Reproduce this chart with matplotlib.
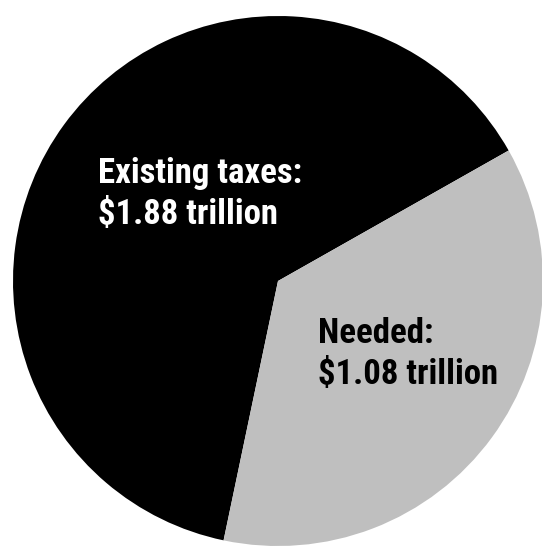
import matplotlib
matplotlib.use('Agg')
import matplotlib.pyplot as plt

# Federal revenue split (trillions of dollars)
labels = ['Existing taxes', 'Needed']
values = [1.88, 1.08]
colors = ['#000000', '#bfbfbf']
text_colors = ['#ffffff', '#000000']

fig = plt.figure(figsize=(5.42, 5.46), dpi=100)
ax = fig.add_axes([0, 0, 1, 1])

ax.pie(values, colors=colors, startangle=29.5, counterclock=True,
       radius=1.0, wedgeprops=dict(linewidth=0))

# keep a unit circle about 265 px across the radius
ax.set_xlim(-278 / 265, (542 - 278) / 265)
ax.set_ylim(-(546 - 281) / 265, 281 / 265)
ax.set_aspect('auto')
ax.axis('off')

# Two-line labels inside each slice
label_pos = [(-0.679, 0.370), (0.151, -0.234)]
for name, val, (x, y), tc in zip(labels, values, label_pos, text_colors):
    font = dict(family=['Roboto Condensed', 'Roboto', 'DejaVu Sans'],
                weight='bold', size=25, color=tc, ha='left', va='baseline')
    ax.text(x, y, f'{name}:', **font)
    ax.text(x, y - 41 / 265, f'${val:.2f} trillion', **font)

fig.savefig('out.png', dpi=100)
